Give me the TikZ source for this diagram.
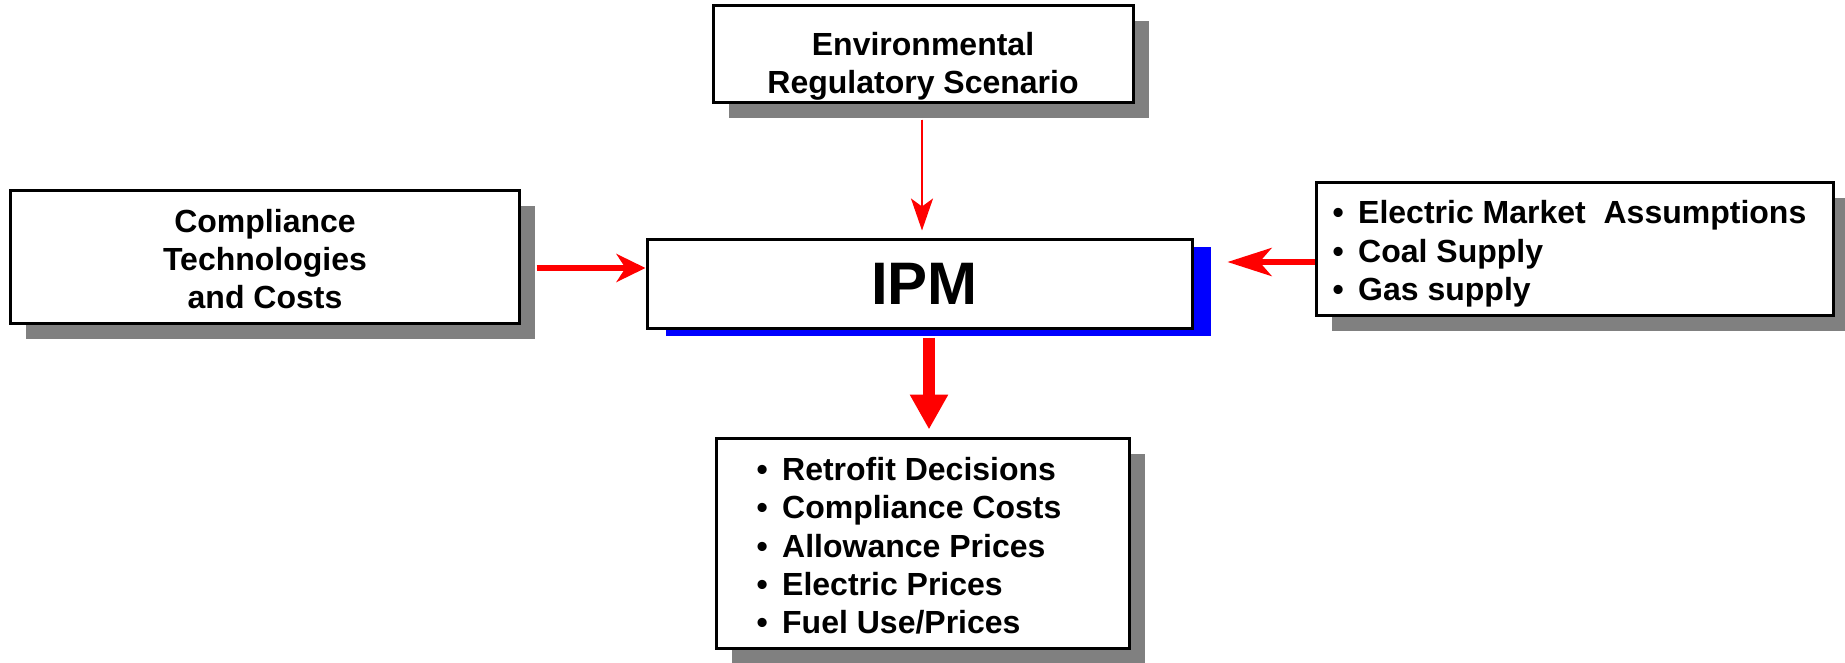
\documentclass[tikz,border=0pt]{standalone}
\usepackage{fontspec}
\setmainfont{Liberation Sans}
\usetikzlibrary{arrows.meta,shadows,calc}
\definecolor{shgray}{RGB}{128,128,128}
\newcommand\bul{\makebox[25.6pt][l]{•}}
\begin{document}
\begin{tikzpicture}[x=1pt,y=-1pt,
  box/.style={draw=black, line width=3pt, fill=white, inner sep=0pt,
    general shadow={fill=shgray, shadow xshift=16pt, shadow yshift=-16pt}},
  ipmbox/.style={draw=black, line width=3pt, fill=white, inner sep=0pt,
    font=\fontsize{60}{70}\selectfont\bfseries,
    general shadow={fill=blue, shadow xshift=19pt, shadow yshift=-8pt}},
  txt/.style={font=\fontsize{32}{38}\selectfont\bfseries, inner sep=0pt, anchor=base},
  lst/.style={txt, anchor=base west},
  conn/.style={draw=red, fill=red}]
\useasboundingbox (0,0) rectangle (1845,662);

% boxes
\node[box, minimum width=420pt, minimum height=97pt] (env) at (923,53.5) {};
\node[box, minimum width=509pt, minimum height=133pt] (comp) at (264.5,256.5) {};
\node[ipmbox, minimum width=545pt, minimum height=89pt] (ipm) at (919.5,283.5) {\hspace*{10pt}IPM};
\node[box, minimum width=517pt, minimum height=133pt] (mkt) at (1574.5,248.5) {};
\node[box, minimum width=413pt, minimum height=210pt] (out) at (922.5,543) {};

% texts
\node[txt] (env1) at (923,55) {Environmental};
\node[txt] (env2) at (923,93) {Regulatory Scenario};

\node[txt] (comp1) at (265,232) {Compliance};
\node[txt] (comp2) at (265,270) {Technologies};
\node[txt] (comp3) at (265,308) {and Costs};

\node[lst] (mkt1) at (1332.4,223.5) {\bul Electric Market\ \ Assumptions};
\node[lst] (mkt2) at (1332.4,262) {\bul Coal Supply};
\node[lst] (mkt3) at (1332.4,300.5) {\bul Gas supply};

\node[lst] (out1) at (756.4,480) {\bul Retrofit Decisions};
\node[lst] (out2) at (756.4,518.5) {\bul Compliance Costs};
\node[lst] (out3) at (756.4,557) {\bul Allowance Prices};
\node[lst] (out4) at (756.4,595) {\bul Electric Prices};
\node[lst] (out5) at (756.4,633) {\bul Fuel Use/Prices};

% connectors
\draw[conn, line width=2pt, -{Stealth[length=32pt,width=22pt,inset=8pt]}]
  ($(env.south)+(-1,16)$) -- ($(ipm.north)+(2.5,-7)$);

\coordinate (la) at ($(comp.east)+(16,11.5)$);
\draw[conn, line width=6pt, -{Stealth[length=29pt,width=28pt,inset=9pt]}]
  (la) -- (la -| ipm.west);

\coordinate (ra) at ($(mkt.west)+(0,13.5)$);
\draw[conn, line width=6pt, -{Stealth[length=44pt,width=28pt,inset=12pt]}]
  (ra) -- ($(ra -| ipm.east)+(34,0)$);

\draw[conn, line width=12pt, -{Triangle[length=35pt,width=36pt]}]
  ($(ipm.south)+(9.5,8)$) -- ($(out.north)+(6.5,-7)$);
\end{tikzpicture}
\end{document}
